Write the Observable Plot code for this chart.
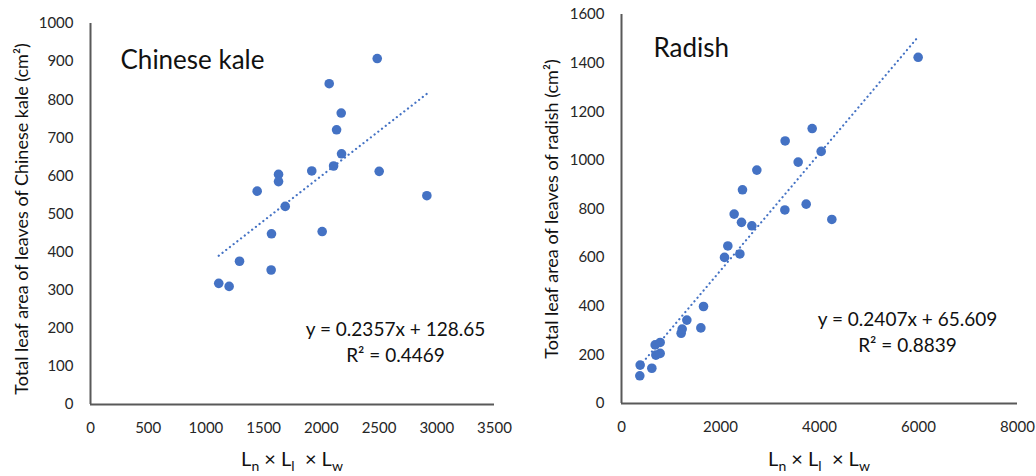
<!DOCTYPE html>
<html><head><meta charset="utf-8">
<script src="https://cdn.jsdelivr.net/npm/d3@7"></script>
<script src="https://cdn.jsdelivr.net/npm/@observablehq/plot@0.6"></script>
<style>
body{margin:0;background:#fff;}
#wrap{display:flex;width:1036px;height:476px;overflow:hidden;}
svg{display:block;}
</style></head><body><div id="wrap"></div>
<script>
// Chinese kale: Ln x Ll x Lw vs total leaf area (cm2)
const kaleX = [1111, 1201, 1291, 1444, 1568, 1565, 1629, 1629, 1687, 1917, 2007, 2068, 2106, 2132, 2172, 2175, 2484, 2501, 2914];
const kaleY = [318, 310, 376, 560, 448, 353, 604, 585, 520, 613, 454, 842, 626, 721, 765, 658, 908, 612, 548];
// Radish
const radishX = [370, 377, 613, 680, 694, 781, 781, 1205, 1226, 1320, 1603, 1657, 2081, 2148, 2276, 2391, 2424, 2444, 2633, 2734, 3300, 3306, 3569, 3731, 3852, 4034, 4249, 5993];
const radishY = [114, 158, 145, 241, 199, 251, 206, 289, 306, 343, 311, 399, 601, 648, 779, 615, 745, 879, 731, 960, 796, 1080, 993, 820, 1131, 1037, 757, 1424];

const kaleFit = {slope: 0.2357, intercept: 128.65, eq: "y = 0.2357x + 128.65", r2: "R² = 0.4469"};
const radishFit = {slope: 0.2407, intercept: 65.609, eq: "y = 0.2407x + 65.609", r2: "R² = 0.8839"};

const kaleXTicks = [0, 500, 1000, 1500, 2000, 2500, 3000, 3500];
const kaleYTicks = [0, 100, 200, 300, 400, 500, 600, 700, 800, 900, 1000];
const radishXTicks = [0, 2000, 4000, 6000, 8000];
const radishYTicks = [0, 200, 400, 600, 800, 1000, 1200, 1400, 1600];

const titles = ["Chinese kale", "Radish"];
const yLabels = ["Total leaf area of leaves of Chinese kale (cm²)", "Total leaf area of leaves of radish (cm²)"];

const BLUE = "#4472C4";
const AXIS = "#595959";
const TXT = "#262626";
const FONT = "Lato, 'Open Sans', sans-serif";

function panel(o) {
  const pts = o.xs.map((x, i) => ({x, y: o.ys[i]}));
  const ext = d3.extent(o.xs);
  const fitPts = ext.map(x => ({x, y: o.fit.slope * x + o.fit.intercept}));
  const svg = Plot.plot({
    width: o.width, height: 476,
    marginLeft: o.ml, marginRight: o.mr, marginTop: o.mt, marginBottom: o.mb,
    style: {fontSize: "15px", fontFamily: FONT, color: TXT, background: "#fff"},
    x: {domain: o.xDomain, ticks: o.xTicks},
    y: {domain: o.yDomain, ticks: o.yTicks},
    marks: [
      Plot.axisX(o.xTicks, {tickSize: 0, tickPadding: 18, tickFormat: d => String(d), label: null}),
      Plot.axisY(o.yTicks, {tickSize: 0, tickPadding: 17, tickFormat: d => String(d), label: null}),
      Plot.ruleX([0], {stroke: AXIS, strokeWidth: 2}),
      Plot.ruleY([0], {stroke: AXIS, strokeWidth: 2}),
      Plot.line(fitPts, {x: "x", y: "y", stroke: BLUE, strokeWidth: 2.2, strokeDasharray: "0.1 4.6", strokeLinecap: "round"}),
      Plot.dot(pts, {x: "x", y: "y", r: 4.8, fill: BLUE}),
      Plot.text([o.title], {frameAnchor: "top-left", dx: o.titleDx, dy: o.titleDy, text: d => d, textAnchor: "start", fontSize: 26, fill: "#111"}),
      Plot.text([o.fit.eq], {frameAnchor: "top-left", dx: o.eqDx, dy: o.eqDy, text: d => d, textAnchor: "middle", fontSize: 19, fill: "#111"}),
      Plot.text([o.fit.r2], {frameAnchor: "top-left", dx: o.eqDx, dy: o.eqDy + 26, text: d => d, textAnchor: "middle", fontSize: 19, fill: "#111"}),
      Plot.text([o.yLabel], {frameAnchor: "left", dx: o.ylDx, dy: o.ylDy, rotate: -90, text: d => d, textAnchor: "middle", fontSize: 18, fill: "#111"})
    ]
  });
  // x-axis label with subscripts
  const cx = o.ml + (o.width - o.ml - o.mr) / 2;
  const t = d3.select(svg).append("text")
    .attr("x", cx).attr("y", 466)
    .attr("text-anchor", "middle")
    .attr("font-family", FONT).attr("font-size", 20).attr("fill", "#111")
    .style("white-space", "pre");
  const parts = [["L", false], ["n", true], [" × ", false], ["L", false], ["l", true], ["  × ", false], ["L", false], ["w", true]];
  let sub = false;
  for (const [s, isSub] of parts) {
    const ts = t.append("tspan").text(s);
    if (isSub && !sub) { ts.attr("dy", 5).attr("font-size", 14); sub = true; }
    else if (isSub) { ts.attr("font-size", 14); }
    else if (!isSub && sub) { ts.attr("dy", -5); sub = false; }
  }
  return svg;
}

const wrap = document.getElementById("wrap");
wrap.append(panel({
  xs: kaleX, ys: kaleY, fit: kaleFit, title: titles[0], yLabel: yLabels[0],
  width: 520, ml: 90, mr: 26, mt: 23, mb: 72,
  xDomain: [0, 3500], yDomain: [0, 1000], xTicks: kaleXTicks, yTicks: kaleYTicks,
  titleDx: 30, titleDy: 27, eqDx: 305, eqDy: 299, ylDx: -68, ylDy: 5
}));
wrap.append(panel({
  xs: radishX, ys: radishY, fit: radishFit, title: titles[1], yLabel: yLabels[1],
  width: 516, ml: 101, mr: 19, mt: 14, mb: 73,
  xDomain: [0, 8000], yDomain: [0, 1600], xTicks: radishXTicks, yTicks: radishYTicks,
  titleDx: 32, titleDy: 24, eqDx: 286, eqDy: 298, ylDx: -69, ylDy: 0
}));
</script>
</body></html>
